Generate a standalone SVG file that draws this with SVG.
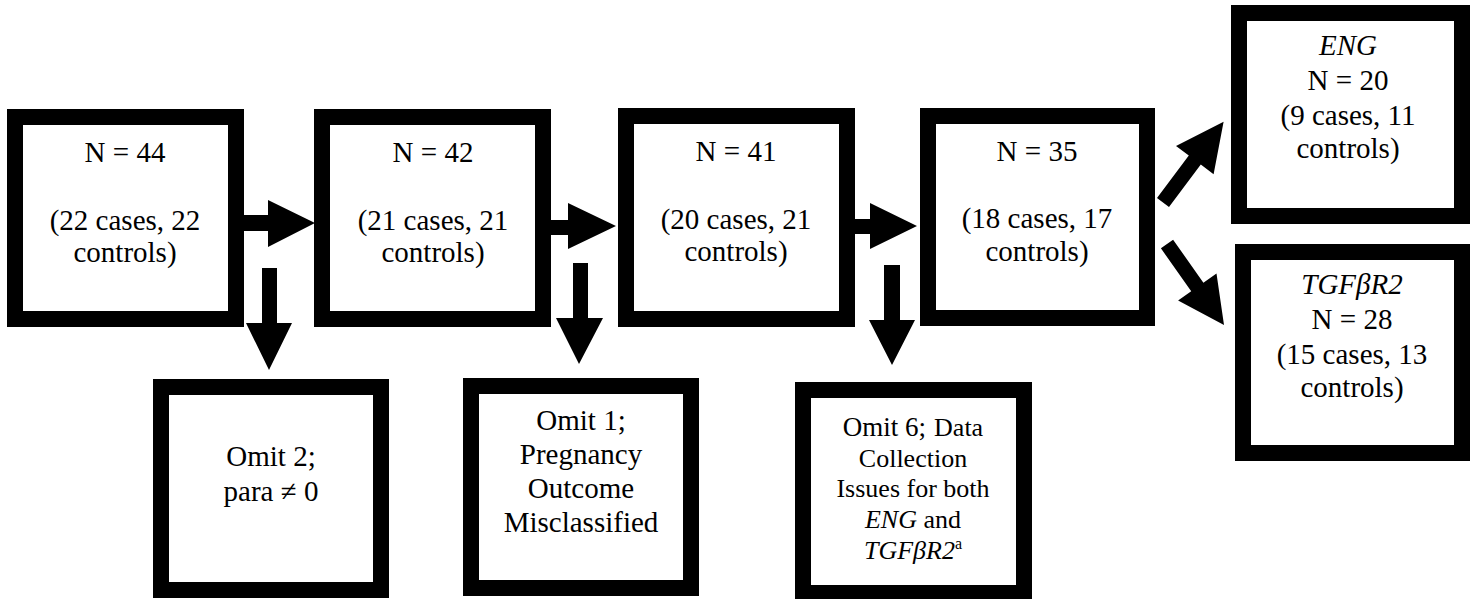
<svg xmlns="http://www.w3.org/2000/svg" width="1474" height="599" viewBox="0 0 1474 599">
<style>
.box{fill:#fff;stroke:#000;stroke-width:16}
.t{font-size:29px;fill:#000;text-anchor:middle}
.s{font-size:26px}
.i{font-style:italic}
.arr{fill:#000;stroke:none}
</style>
<rect width="1474" height="599" fill="#fff"/>
<g id="connectors">
<polygon class="arr" points="244,215 268,215 268,200 315,223 268,247 268,231 244,231"/>
<polygon class="arr" points="551,220 568,220 568,203 616,226 568,249 568,235 551,235"/>
<polygon class="arr" points="855,219 870,219 870,203 917,226 870,249 870,234 855,234"/>
<polygon class="arr" points="262,268 277,268 277,323 292,323 269,370 246,323 262,323"/>
<polygon class="arr" points="573,263 588,263 588,318 603,318 579,364 556,318 573,318"/>
<polygon class="arr" points="884,265 900,265 900,320 915,320 892,365 869,320 884,320"/>
<polygon class="arr" points="1157,198 1188.8,155.6 1176,146 1223.6,121.7 1213.6,174.2 1200.8,164.6 1169,207"/>
<polygon class="arr" points="1173.1,239.7 1203.4,282.7 1216.5,273.5 1224,325 1178.1,300.5 1191.2,291.3 1160.9,248.3"/>
</g>
<g font-family="Liberation Serif, Times New Roman, DejaVu Serif, serif">
<g id="n44">
<rect class="box" x="15" y="117" width="221" height="202"/>
<text class="t" x="125" y="162">N = 44</text>
<text class="t" x="125" y="230">(22 cases, 22</text>
<text class="t" x="125" y="262">controls)</text>
</g>
<g id="n42">
<rect class="box" x="322" y="117" width="221" height="202"/>
<text class="t" x="433" y="162">N = 42</text>
<text class="t" x="433" y="230">(21 cases, 21</text>
<text class="t" x="433" y="262">controls)</text>
</g>
<g id="n41">
<rect class="box" x="626" y="116" width="221" height="203"/>
<text class="t" x="736" y="161">N = 41</text>
<text class="t" x="736" y="229">(20 cases, 21</text>
<text class="t" x="736" y="261">controls)</text>
</g>
<g id="n35">
<rect class="box" x="928" y="116" width="219" height="202"/>
<text class="t" x="1037" y="161">N = 35</text>
<text class="t" x="1037" y="228">(18 cases, 17</text>
<text class="t" x="1037" y="261">controls)</text>
</g>
<g id="eng">
<rect class="box" x="1239" y="13" width="223" height="203"/>
<text class="t i" x="1348" y="55">ENG</text>
<text class="t" x="1348" y="90">N = 20</text>
<text class="t" x="1348" y="125">(9 cases, 11</text>
<text class="t" x="1348" y="158">controls)</text>
</g>
<g id="tgf">
<rect class="box" x="1243" y="252" width="219" height="201"/>
<text class="t i" x="1352" y="294">TGFβR2</text>
<text class="t" x="1352" y="329">N = 28</text>
<text class="t" x="1352" y="364">(15 cases, 13</text>
<text class="t" x="1352" y="397">controls)</text>
</g>
<g id="omit2">
<rect class="box" x="161" y="387" width="220" height="203"/>
<text class="t" x="271" y="466">Omit 2;</text>
<text class="t" x="271" y="501">para ≠ 0</text>
</g>
<g id="omit1">
<rect class="box" x="471" y="386" width="220" height="202"/>
<text class="t" x="581" y="430">Omit 1;</text>
<text class="t" x="581" y="464">Pregnancy</text>
<text class="t" x="581" y="498">Outcome</text>
<text class="t" x="581" y="532">Misclassified</text>
</g>
<g id="omit6">
<rect class="box" x="803" y="390" width="221" height="203"/>
<text class="t" x="913" y="436"><tspan font-size="27">Omit 6;</tspan><tspan class="s" dx="8">Data</tspan></text>
<text class="t s" x="913" y="467">Collection</text>
<text class="t s" x="913" y="497">Issues for both</text>
<text class="t s" x="913" y="528"><tspan class="i">ENG</tspan> and</text>
<text class="t s" x="913" y="559"><tspan class="i">TGFβR2</tspan><tspan font-size="16" dy="-10">a</tspan></text>
</g>
</g>
</svg>
